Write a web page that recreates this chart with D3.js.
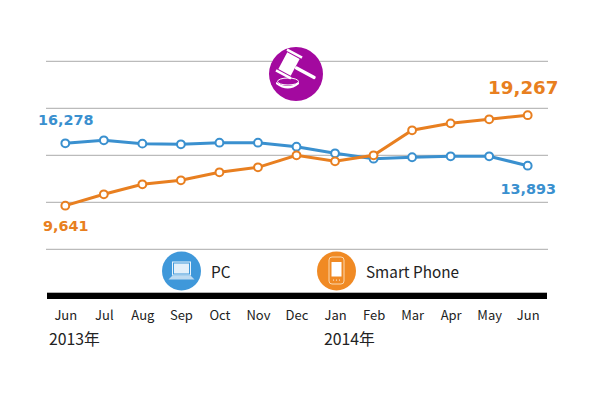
<!DOCTYPE html>
<html>
<head>
<meta charset="utf-8">
<script src="https://d3js.org/d3.v7.min.js"></script>
<style>
  html, body { margin:0; padding:0; background:#fff; }
  svg { display:block; }
  .tick-label { font-family:"Noto Sans CJK JP","Noto Sans",sans-serif; font-size:13px; fill:#222; }
  .year { font-family:"Noto Sans CJK JP","Noto Sans",sans-serif; font-size:15.8px; fill:#222; }
  .legend { font-family:"Noto Sans CJK JP","Noto Sans",sans-serif; font-size:15.3px; fill:#222; }
  .value { font-family:"DejaVu Sans",sans-serif; font-weight:bold; font-size:14px; }
</style>
</head>
<body>
<svg id="plot" width="610" height="400"></svg>
<script>
//chart values
var months = ["Jun","Jul","Aug","Sep","Oct","Nov","Dec","Jan","Feb","Mar","Apr","May","Jun "];
var pcValues = [16278,16596,16240,16170,16340,16340,15915,15210,14640,14790,14890,14890,13893];
var phoneValues = [9641,10850,11915,12340,13190,13720,15000,14360,15000,17660,18400,18830,19267];
var gridValues = [5000,10000,15000,20000,25000];

var blue = "#3a90cf";
var orange = "#e87f20";

var svg = d3.select("#plot");

//scales
var xScale = d3.scalePoint().domain(months).range([65.3,527.7]);
var yScale = d3.scaleLinear().domain([5000,25000]).range([249.3,61.3]);

//gridlines
svg.append("g").selectAll("line")
    .data(gridValues)
    .enter()
    .append("line")
    .attr("x1",46)
    .attr("x2",548)
    .attr("y1",function(d) { return yScale(d); })
    .attr("y2",function(d) { return yScale(d); })
    .attr("stroke","#aaa")
    .attr("stroke-width",1);

//thick baseline and month labels
var xAxis = d3.axisBottom(xScale).tickSize(0).tickPadding(0);
var axisG = svg.append("g")
    .attr("transform","translate(0,296)")
    .call(xAxis);
axisG.select(".domain").remove();
axisG.selectAll("text")
    .attr("class","tick-label")
    .attr("dy",null)
    .attr("y",24);
axisG.attr("font-family",null).attr("font-size",null);

svg.append("rect")
    .attr("x",47)
    .attr("y",292.7)
    .attr("width",500)
    .attr("height",6.3)
    .attr("fill","#000");

svg.append("text").attr("class","year").attr("x",49).attr("y",345).text("2013年");
svg.append("text").attr("class","year").attr("x",324).attr("y",345).text("2014年");

//lines
var drawSeries = function(values,color)
{
    var line = d3.line()
        .x(function(d,i) { return xScale(months[i]); })
        .y(function(d) { return yScale(d); });

    var g = svg.append("g");
    g.append("path")
        .datum(values)
        .attr("d",line)
        .attr("fill","none")
        .attr("stroke",color)
        .attr("stroke-width",3);
    g.selectAll("circle")
        .data(values)
        .enter()
        .append("circle")
        .attr("cx",function(d,i) { return xScale(months[i]); })
        .attr("cy",function(d) { return yScale(d); })
        .attr("r",3.9)
        .attr("fill","#fff")
        .attr("stroke",color)
        .attr("stroke-width",2);
}
drawSeries(pcValues,blue);
drawSeries(phoneValues,orange);

//value labels
var addValue = function(x,y,text,color,size)
{
    svg.append("text")
        .attr("class","value")
        .attr("x",x)
        .attr("y",y)
        .attr("fill",color)
        .style("font-size",size+"px")
        .text(text);
}
addValue(38,124.7,d3.format(",")(pcValues[0]),blue,14.4);
addValue(43,230.7,d3.format(",")(phoneValues[0]),orange,14.4);
addValue(500.5,193.7,d3.format(",")(pcValues[12]),blue,14.4);
addValue(488,94,d3.format(",")(phoneValues[12]),orange,18.3);

//gavel icon
var gavel = svg.append("g").attr("transform","translate(296,74)");
gavel.append("circle").attr("r",27).attr("fill","#a3099f");
var hammer = gavel.append("g").attr("transform","translate(-7,-10) rotate(28)");
hammer.append("rect").attr("x",-7).attr("y",-9.5).attr("width",14).attr("height",19).attr("fill","#fff");
hammer.append("rect").attr("x",-8.5).attr("y",-13).attr("width",17).attr("height",2.5).attr("fill","#fff");
hammer.append("rect").attr("x",-8.5).attr("y",10.5).attr("width",17).attr("height",2.5).attr("fill","#fff");
hammer.append("rect").attr("x",7).attr("y",-1.7).attr("width",23).attr("height",3.4).attr("rx",1.5).attr("fill","#fff");
gavel.append("ellipse").attr("cx",-8).attr("cy",7.5).attr("rx",10.5).attr("ry",3.5).attr("fill","none").attr("stroke","#fff").attr("stroke-width",1);
gavel.append("path").attr("d","M-20,8 Q-8,16 3,8 L3,10 Q-8,19 -20,10 Z").attr("fill","#fff");

//legend PC
var pcIcon = svg.append("g").attr("transform","translate(181.5,271)");
pcIcon.append("circle").attr("r",19.5).attr("fill","#3f98da");
pcIcon.append("rect").attr("x",-9).attr("y",-9).attr("width",18).attr("height",13).attr("fill","#3f98da").attr("stroke","#e8f3fb").attr("stroke-width",1);
pcIcon.append("rect").attr("x",-7.5).attr("y",-7.5).attr("width",15).attr("height",10).attr("fill","#e3f0fa");
pcIcon.append("path").attr("d","M-9,4.5 L9,4.5 L13,8.5 L-13,8.5 Z").attr("fill","#bcdaf1");

svg.append("text").attr("class","legend").attr("x",211).attr("y",277.7).text("PC");

//legend smart phone
var phoneIcon = svg.append("g").attr("transform","translate(336.5,271)");
phoneIcon.append("circle").attr("r",19.5).attr("fill","#f08a24");
phoneIcon.append("rect").attr("x",-7.5).attr("y",-14).attr("width",15).attr("height",27).attr("rx",3).attr("fill","none").attr("stroke","#fbd9b0").attr("stroke-width",1);
phoneIcon.append("rect").attr("x",-5).attr("y",-9).attr("width",10).attr("height",14.5).attr("fill","#fff");
phoneIcon.selectAll(".dot").data([-3,0,3]).enter().append("circle")
    .attr("class","dot")
    .attr("cx",function(d) { return d; })
    .attr("cy",9)
    .attr("r",0.6)
    .attr("fill","#fff");
svg.append("text").attr("class","legend").attr("x",366).attr("y",277.7).text("Smart Phone");
</script>
</body>
</html>
